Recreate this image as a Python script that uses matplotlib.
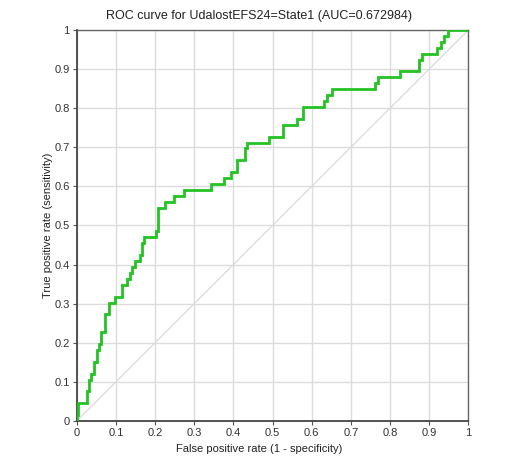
import numpy as np
import matplotlib.pyplot as plt
from matplotlib.ticker import FormatStrFormatter, MultipleLocator

plt.rcParams['font.family'] = ['Liberation Sans', 'DejaVu Sans']

# ROC corner points: at each fpr the curve rises to the given tpr, then runs flat
fpr = [0.000, 0.000, 0.003, 0.026, 0.032, 0.037, 0.045, 0.053, 0.058, 0.063,
       0.072, 0.083, 0.099, 0.115, 0.128, 0.135, 0.140, 0.149, 0.162, 0.166,
       0.172, 0.202, 0.208, 0.226, 0.249, 0.274, 0.342, 0.375, 0.394, 0.410,
       0.430, 0.436, 0.490, 0.528, 0.562, 0.579, 0.632, 0.638, 0.653, 0.762,
       0.770, 0.826, 0.875, 0.883, 0.920, 0.931, 0.938, 0.949, 1.000]
tpr = [0.000, 0.015, 0.045, 0.076, 0.106, 0.121, 0.152, 0.182, 0.197, 0.227,
       0.273, 0.303, 0.318, 0.348, 0.364, 0.379, 0.394, 0.409, 0.424, 0.455,
       0.470, 0.485, 0.545, 0.561, 0.576, 0.591, 0.606, 0.621, 0.636, 0.667,
       0.697, 0.712, 0.727, 0.758, 0.773, 0.803, 0.818, 0.833, 0.848, 0.864,
       0.879, 0.894, 0.924, 0.939, 0.955, 0.970, 0.985, 1.000, 1.000]
auc = 0.672984
title = 'ROC curve for UdalostEFS24=State1 (AUC=%g)' % auc

fig = plt.figure(figsize=(5.07, 4.57), dpi=100)
ax = fig.add_axes([76.7 / 507, 1 - 421 / 457, 391.6 / 507, 391 / 457])

# reference diagonal
ax.plot([0, 1], [0, 1], color='#dadada', lw=0.9, zorder=1)
ax.step(fpr, tpr, where='post', color='#22c322', lw=2.0, zorder=3,
        solid_joinstyle='miter')

ax.set_xlim(0, 1)
ax.set_ylim(0, 1)
ax.xaxis.set_major_locator(MultipleLocator(0.1))
ax.yaxis.set_major_locator(MultipleLocator(0.1))
ax.xaxis.set_major_formatter(FormatStrFormatter('%g'))
ax.yaxis.set_major_formatter(FormatStrFormatter('%g'))
ax.grid(True, color='#dcdcdc', lw=1.0, zorder=0)
ax.set_axisbelow(True)

for side in ['left', 'bottom']:
    ax.spines[side].set_color('#444444')
    ax.spines[side].set_linewidth(1.3)
for side in ['top', 'right']:
    ax.spines[side].set_color('#666666')
    ax.spines[side].set_linewidth(1.0)

ax.tick_params(length=3, width=0.8, color='#555555', labelcolor='#333333',
               labelsize=8, pad=2)
# title and x label sit a little left of the axes centre
ax.set_title(title, fontsize=9, color='#222222', pad=8, x=0.4655)
ax.set_xlabel('False positive rate (1 - specificity)', fontsize=8,
              color='#222222', labelpad=4, x=0.4655)
ax.set_ylabel('True positive rate (sensitivity)', fontsize=8,
              color='#222222', labelpad=1)

fig.savefig('out.png', dpi=100)
